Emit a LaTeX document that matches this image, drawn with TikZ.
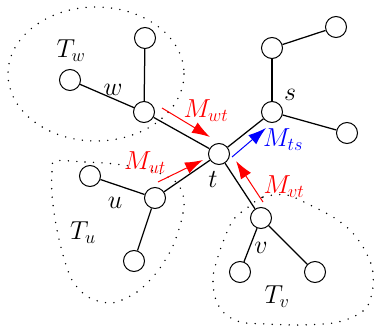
\RequirePackage{fix-cm}
\documentclass[tikz,border=0pt]{standalone}
\usetikzlibrary{arrows.meta}
\begin{document}
\begin{tikzpicture}[x=1pt,y=-1pt,
  vtx/.style={circle,draw,fill=white,minimum size=21pt,inner sep=0pt,line width=1pt},
  link/.style={line width=1.25pt},
  region/.style={line width=1.6pt,line cap=round,dash pattern=on 0pt off 8.5pt},
  lbl/.style={inner sep=0pt,font=\fontsize{26}{30}\selectfont},
  msg/.style={line width=1pt,-{Latex[length=18pt,width=12pt]}}]
\useasboundingbox (0,0) rectangle (374,331);
% regions
\draw[region] (96,74) ellipse [x radius=88, y radius=67];
\draw[region] plot[smooth cycle] coordinates {(55,161) (85,162) (115,164) (150,170) (176,182) (184,200) (181,222) (172,248) (157,272) (137,292) (112,303) (88,297) (72,280) (63,255) (56,225) (52,195) (52,172)};
\draw[region] plot[smooth cycle] coordinates {(247,208) (263,197) (287,195) (310,205) (333,217) (350,230) (363,247) (372,267) (373,287) (367,307) (353,317) (333,323) (300,325) (267,324) (240,322) (223,312) (215,297) (213,277) (217,260) (223,242) (233,220)};
% nodes
\node[vtx] (t) at (219,154) {};
\node[vtx] (w) at (144,112) {};
\node[vtx] (wa) at (145,38) {};
\node[vtx] (wb) at (70,80) {};
\node[vtx] (s) at (272,112) {};
\node[vtx] (sa) at (272,48) {};
\node[vtx] (sb) at (336,27) {};
\node[vtx] (sc) at (347,133) {};
\node[vtx] (u) at (155,198) {};
\node[vtx] (ua) at (90,176) {};
\node[vtx] (ub) at (134,261) {};
\node[vtx] (v) at (261,218) {};
\node[vtx] (va) at (240,272) {};
\node[vtx] (vb) at (315,272) {};
% edges
\draw[link] (t) -- (w);
\draw[link] (t) -- (s);
\draw[link] (t) -- (u);
\draw[link] (t) -- (v);
\draw[link] (w) -- (wa);
\draw[link] (w) -- (wb);
\draw[link] (s) -- (sa);
\draw[link] (sa) -- (sb);
\draw[link] (s) -- (sc);
\draw[link] (u) -- (ua);
\draw[link] (u) -- (ub);
\draw[link] (v) -- (va);
\draw[link] (v) -- (vb);
% labels
\node[lbl] (Tw) at (71,51) {$T_w$};
\node[lbl] (lw) at (113,90) {$w$};
\node[lbl] (ls) at (290,95) {$s$};
\node[lbl] (lt) at (213,180) {$t$};
\node[lbl] (lu) at (115,203) {$u$};
\node[lbl] (Tu) at (83,233) {$T_u$};
\node[lbl] (lv) at (261,248) {$v$};
\node[lbl] (Tv) at (277,297) {$T_v$};
\node[lbl,text=red] (Mwt) at (206,111) {$M_{wt}$};
\node[lbl,text=blue] (Mts) at (283,140) {$M_{ts}$};
\node[lbl,text=red] (Mut) at (145,163) {$M_{ut}$};
\node[lbl,text=red] (Mvt) at (284,187) {$M_{vt}$};
% message arrows
\coordinate (wt1) at (162,108);
\coordinate (wt2) at (210,137);
\coordinate (ts1) at (232,157);
\coordinate (ts2) at (266,128);
\coordinate (ut1) at (158,182);
\coordinate (ut2) at (203,160);
\coordinate (vt1) at (263,202);
\coordinate (vt2) at (236,161);
\draw[msg,red] (wt1) -- (wt2);
\draw[msg,blue] (ts1) -- (ts2);
\draw[msg,red] (ut1) -- (ut2);
\draw[msg,red] (vt1) -- (vt2);
\end{tikzpicture}
\end{document}
